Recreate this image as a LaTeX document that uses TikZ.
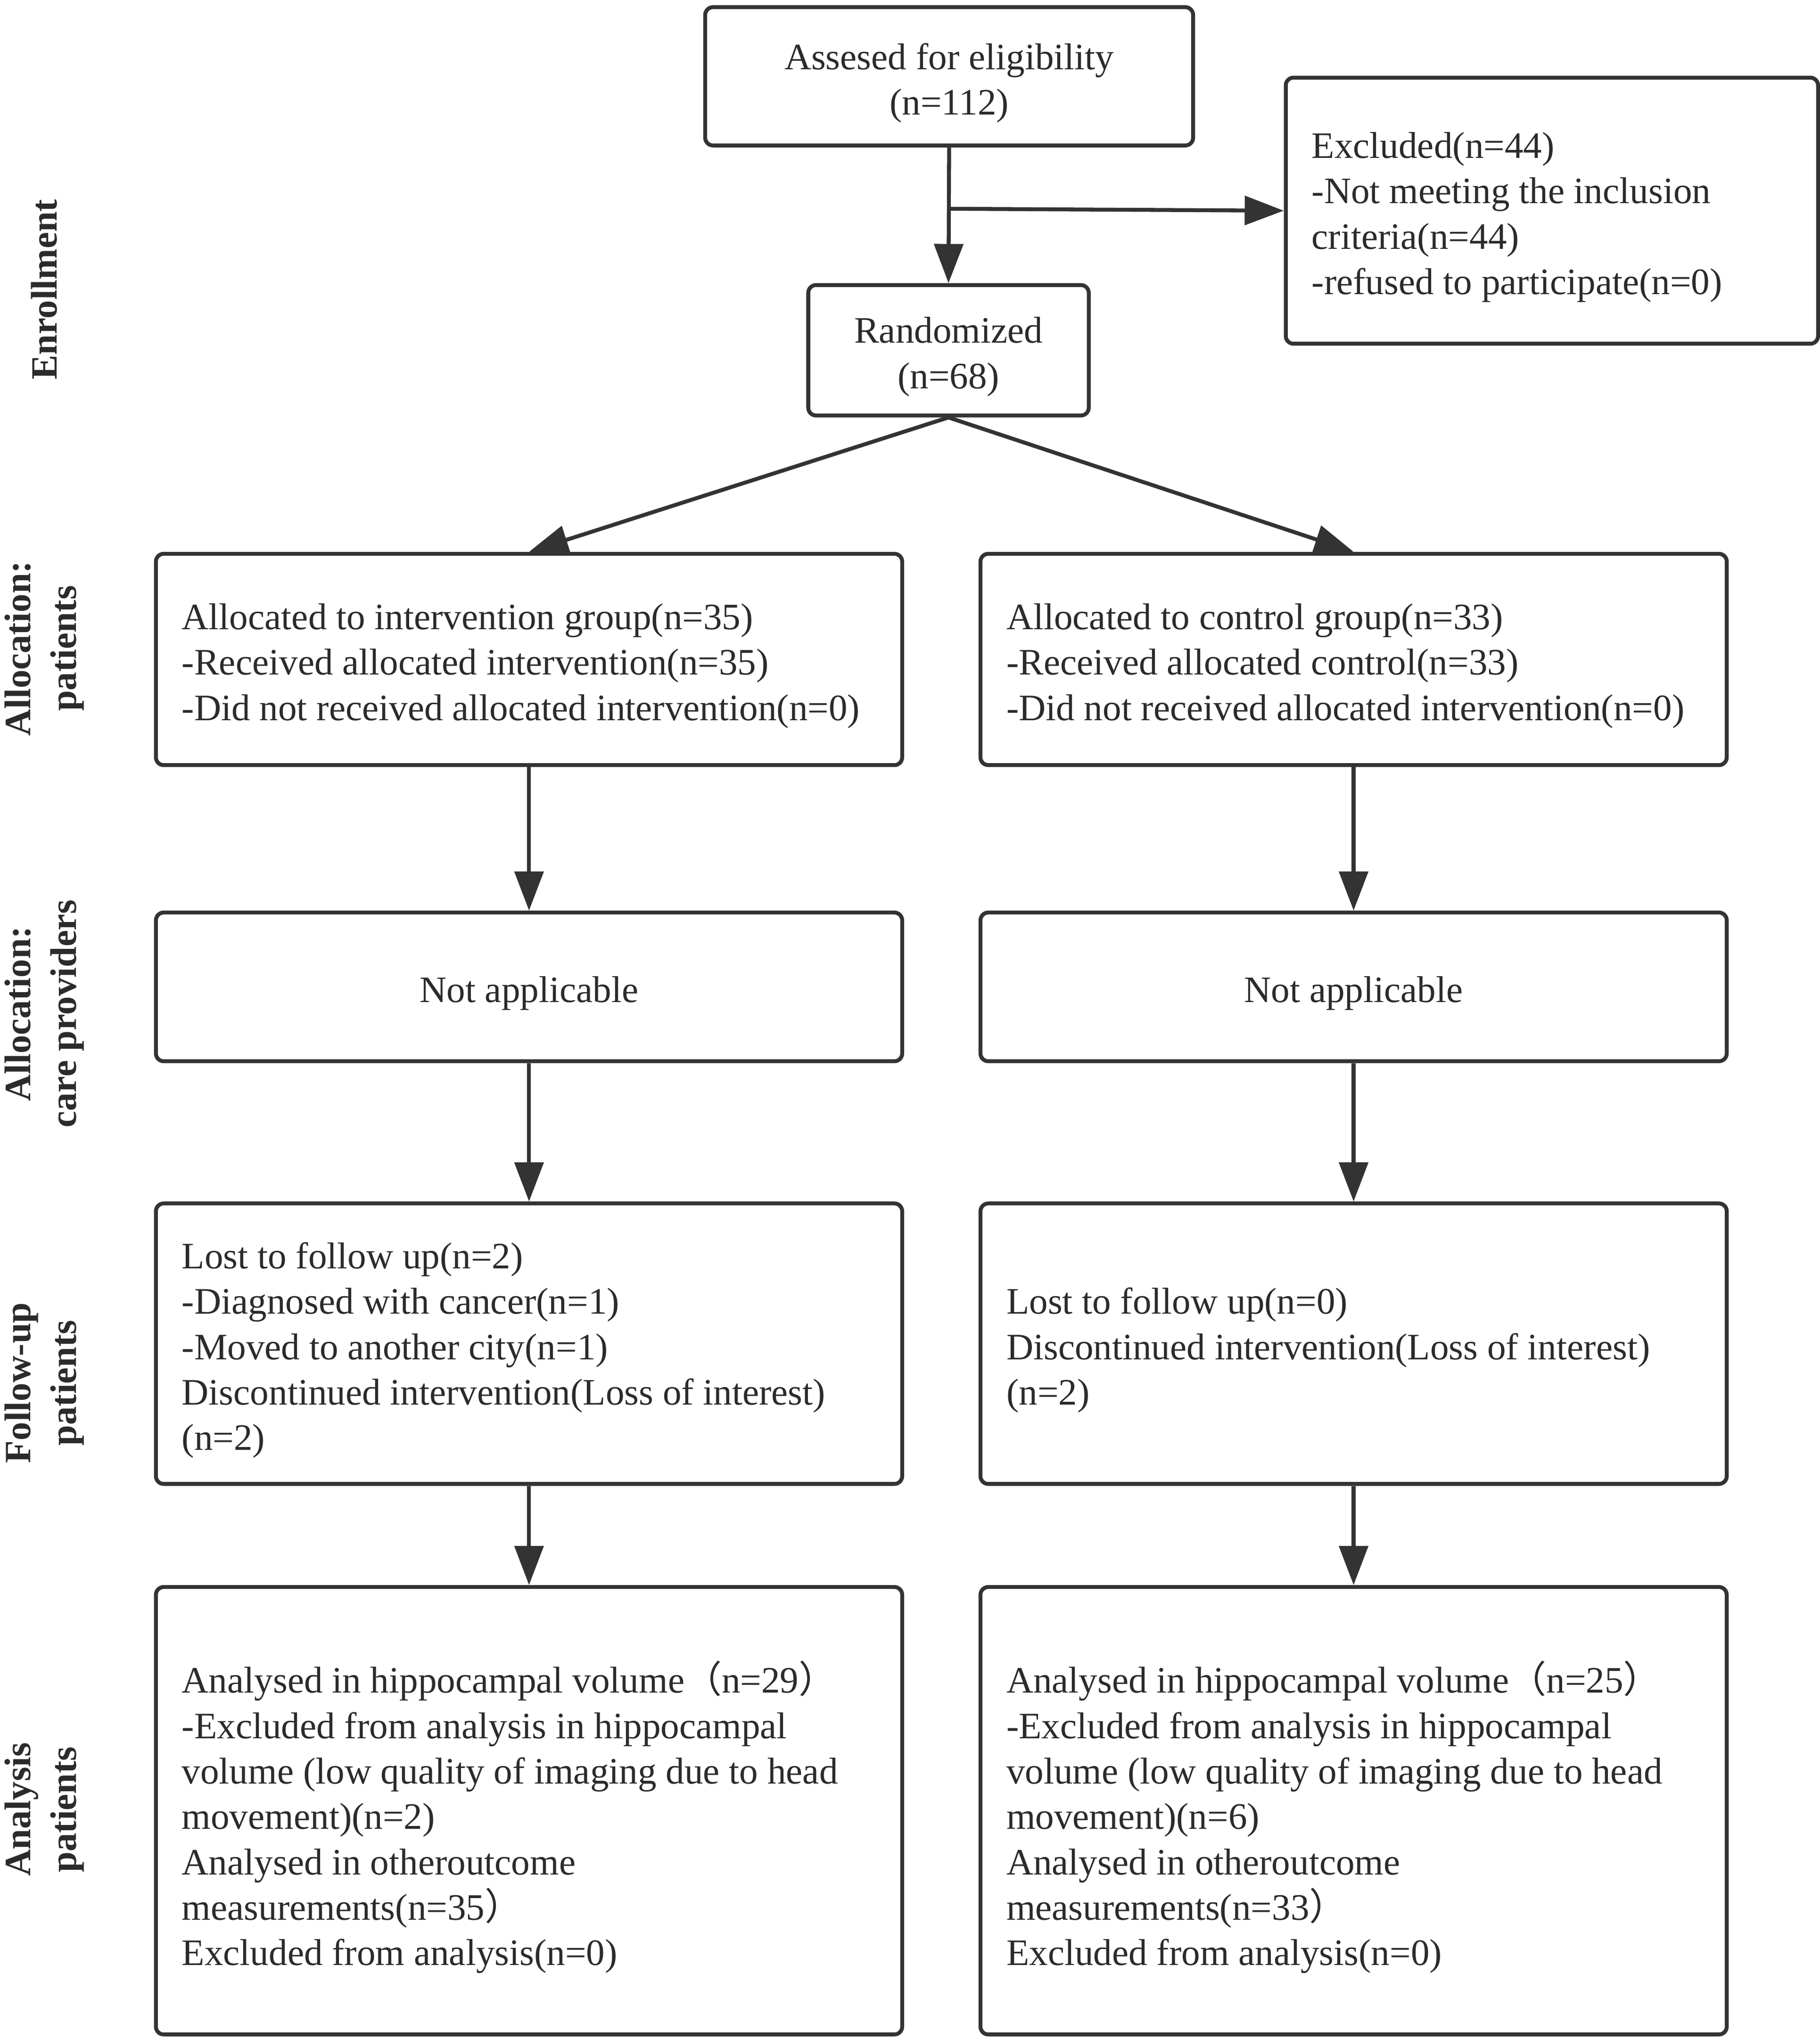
\documentclass[tikz,border=0pt]{standalone}
\usepackage{fontspec}
\setmainfont{Liberation Serif}
\newfontfamily\cjk{Noto Sans CJK SC}
\usetikzlibrary{arrows.meta}
\definecolor{dark}{HTML}{333333}
\definecolor{txt}{HTML}{2B2B2B}
\begin{document}
\begin{tikzpicture}[x=0.5pt,y=-0.5pt,
  frame/.style={draw=dark, line width=1.5pt, rounded corners=3pt, anchor=north west,
    inner sep=0pt, minimum width=#1},
  ltext/.style={anchor=west, align=left, inner sep=0pt, text=txt,
    font=\fontsize{14.3}{17.4}\selectfont},
  ctext/.style={align=center, inner sep=0pt, text=txt,
    font=\fontsize{14.3}{17.4}\selectfont},
  arr/.style={draw=dark, line width=1.5pt, -{Triangle[length=15pt,width=11pt]}},
  side/.style={rotate=90, font=\bfseries\fontsize{14.2}{17.4}\selectfont, align=center, text=txt}]
\useasboundingbox (0,0) rectangle (1395,1563);

% side labels
\node[side] (s1) at (34,222) {Enrollment};
\node[side] (s2) at (34,497) {Allocation:\\patients};
\node[side] (s3) at (34,777) {Allocation:\\care providers};
\node[side] (s4) at (34,1060) {Follow-up\\patients};
\node[side] (s5) at (34,1387) {Analysis\\patients};

% frames
\node[frame=187pt, minimum height=53pt] (ass) at (539,4) {};
\node[frame=204pt, minimum height=102pt] (exc) at (984,58) {};
\node[frame=107.5pt, minimum height=50pt] (rand) at (618,217) {};
\node[frame=286pt, minimum height=81pt] (al) at (118,423) {};
\node[frame=286pt, minimum height=81pt] (ar) at (750,423) {};
\node[frame=286pt, minimum height=57pt] (nl) at (118,698) {};
\node[frame=286pt, minimum height=57pt] (nr) at (750,698) {};
\node[frame=286pt, minimum height=107.5pt] (fl) at (118,921) {};
\node[frame=286pt, minimum height=107.5pt] (fr) at (750,921) {};
\node[frame=286pt, minimum height=171.5pt] (anl) at (118,1215) {};
\node[frame=286pt, minimum height=171.5pt] (anr) at (750,1215) {};

% texts
\node[ctext] (ass-t) at ([yshift=-2.5pt]ass.center) {Assesed for eligibility\\(n=112)};
\node[ltext] (exc-t) at ([xshift=10.5pt,yshift=-2.5pt]exc.west)
  {Excluded(n=44)\\-Not meeting the inclusion\\criteria(n=44)\\-refused to participate(n=0)};
\node[ctext] (rand-t) at ([yshift=-2.5pt]rand.center) {Randomized\\(n=68)};
\node[ltext] (al-t) at ([xshift=10.5pt,yshift=-2.5pt]al.west)
  {Allocated to intervention group(n=35)\\-Received allocated intervention(n=35)\\-Did not received allocated intervention(n=0)};
\node[ltext] (ar-t) at ([xshift=10.5pt,yshift=-2.5pt]ar.west)
  {Allocated to control group(n=33)\\-Received allocated control(n=33)\\-Did not received allocated intervention(n=0)};
\node[ctext] (nl-t) at ([yshift=-2.5pt]nl.center) {Not applicable};
\node[ctext] (nr-t) at ([yshift=-2.5pt]nr.center) {Not applicable};
\node[ltext] (fl-t) at ([xshift=10.5pt,yshift=-2.5pt]fl.west)
  {Lost to follow up(n=2)\\-Diagnosed with cancer(n=1)\\-Moved to another city(n=1)\\Discontinued intervention(Loss of interest)\\(n=2)};
\node[ltext] (fr-t) at ([xshift=10.5pt,yshift=-2.5pt]fr.west)
  {Lost to follow up(n=0)\\Discontinued intervention(Loss of interest)\\(n=2)};
\node[ltext] (anl-t) at ([xshift=10.5pt,yshift=-2.5pt]anl.west)
  {Analysed in hippocampal volume{\cjk （}n=29{\cjk ）}\\-Excluded from analysis in hippocampal\\volume (low quality of imaging due to head\\movement)(n=2)\\Analysed in otheroutcome\\measurements(n=35{\cjk ）}\\Excluded from analysis(n=0)};
\node[ltext] (anr-t) at ([xshift=10.5pt,yshift=-2.5pt]anr.west)
  {Analysed in hippocampal volume{\cjk （}n=25{\cjk ）}\\-Excluded from analysis in hippocampal\\volume (low quality of imaging due to head\\movement)(n=6)\\Analysed in otheroutcome\\measurements(n=33{\cjk ）}\\Excluded from analysis(n=0)};

% connectors
\coordinate (br) at (726,160);
\draw[arr] (ass.south) -- (rand.north);
\draw[arr] (br) -- (exc.west);
\draw[arr] (rand.south) -- (al.north);
\draw[arr] (rand.south) -- (ar.north);
\draw[arr] (al.south) -- (nl.north);
\draw[arr] (ar.south) -- (nr.north);
\draw[arr] (nl.south) -- (fl.north);
\draw[arr] (nr.south) -- (fr.north);
\draw[arr] (fl.south) -- (anl.north);
\draw[arr] (fr.south) -- (anr.north);
\end{tikzpicture}
\end{document}
